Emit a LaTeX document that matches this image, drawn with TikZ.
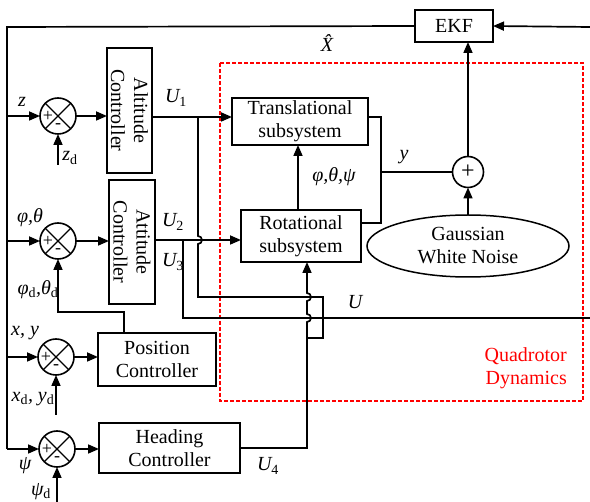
\documentclass[tikz,border=0pt]{standalone}
\usepackage{fontspec}
\setmainfont{Liberation Serif}
\usetikzlibrary{arrows.meta,shapes.geometric,calc}
\newcommand{\dsub}[1]{\textsubscript{\upshape #1}}
\begin{document}
\begin{tikzpicture}[x=1pt,y=-1pt,
 blk/.style={draw, line width=1.5pt, align=center, inner sep=0pt, outer sep=0pt, font=\fontsize{20}{23}\selectfont},
 sumc/.style={draw, circle, line width=1.6pt, minimum size=36pt, inner sep=0pt, outer sep=0pt},
 arr/.style={line width=1.7pt, -{Triangle[length=11pt,width=9pt]}},
 wire/.style={line width=1.7pt},
 lbl/.style={font=\fontsize{20}{23}\selectfont\itshape, inner sep=0pt},
 sgn/.style={font=\fontsize{18}{18}\selectfont, inner sep=0pt},
 quad/.style={draw=red, line width=1.3pt, dash pattern=on 4pt off 2pt}]
\useasboundingbox (0,0) rectangle (590,502);

% blocks
\node[blk, minimum width=45, minimum height=125] (alt) at (129.5,110.5) {};
\node[rotate=-90, align=center, font=\fontsize{20}{23}\selectfont, inner sep=0pt] at (alt.center) {Altitude\\Controller};
\node[blk, minimum width=46, minimum height=124] (att) at (132,242) {};
\node[rotate=-90, align=center, font=\fontsize{20}{23}\selectfont, inner sep=0pt] at (att.center) {Attitude\\Controller};
\node[blk, minimum width=118, minimum height=53] (pos) at (157,359.5) {Position\\Controller};
\node[blk, minimum width=141, minimum height=50] (head) at (169.5,448) {Heading\\Controller};
\node[blk, minimum width=136, minimum height=47] (trans) at (300,121.5) {Translational\\subsystem};
\node[blk, minimum width=120, minimum height=52] (rot) at (301,236) {Rotational\\subsystem};
\node[blk, minimum width=78, minimum height=32] (ekf) at (454,26) {EKF};
\node[draw, ellipse, line width=1.5pt, minimum width=202, minimum height=62, inner sep=0pt, outer sep=0pt, align=center, font=\fontsize{20}{23}\selectfont] (noise) at (468,246) {Gaussian\\White Noise};
\node[draw, circle, line width=1.6pt, minimum size=31pt, inner sep=0pt, outer sep=0pt, font=\fontsize{24}{24}\selectfont] (plus) at (468,172) {+};

% quadrotor dynamics
\draw[quad] (220,63) rectangle (583,401);
\node[red, align=right, anchor=east, font=\fontsize{20}{23}\selectfont, inner sep=0pt] (qd) at (567,368) {Quadrotor\\Dynamics};

% summing junctions
\node[sumc] (s1) at (58,116) {};
\node[sumc] (s2) at (58,241) {};
\node[sumc] (s3) at (56,357) {};
\node[sumc] (s4) at (57,449) {};
\foreach \s in {s1,s2,s3,s4}{
  \draw[line width=1.4pt] (\s.north west) -- (\s.south east);
  \draw[line width=1.4pt] (\s.north east) -- (\s.south west);
  \node[sgn] at ($(\s.center)+(-10,0)$) {+};
  \node[sgn] at ($(\s.center)+(0,10)$) {-};
}

% feedback bus
\coordinate (tl) at (7,27);
\draw[wire] (ekf.west) -- (tl) -- (7,449) coordinate (bl);
\draw[arr] (bl) -- (s4.west);
\draw[arr] (7,116) -- (s1.west);
\draw[arr] (7,241) -- (s2.west);
\draw[arr] (7,357) -- (s3.west);
\coordinate (rin) at (590,27);
\draw[arr] (rin) -- (ekf.east);

% references
\coordinate (zd) at (58,165);
\draw[arr] (zd) -- (s1.south);
\coordinate (xyd) at (56,415);
\draw[arr] (xyd) -- (s3.south);
\coordinate (psid) at (57,502);
\draw[arr] (psid) -- (s4.south);
\draw[arr] (pos.north -| 124,0) -- (124,312) -- (58,312) -- (s2.south);

% sum to controllers
\draw[arr] (s1.east) -- (alt.west |- s1.east);
\draw[arr] (s2.east) -- (att.west |- s2.east);
\draw[arr] (s3.east) -- (pos.west |- s3.east);
\draw[arr] (s4.east) -- (head.west |- s4.east);

% U1
\draw[arr] (alt.east |- 0,117) -- (trans.west |- 0,117);
\draw[wire] (198,117) -- (198,236) arc[start angle=-90,end angle=90,radius=4] -- (198,297) -- (323,297) -- (323,338) -- (307,338);
% U2
\draw[arr] (att.east |- 0,240) -- (rot.west |- 0,240);
% U3 / U
\coordinate (uout) at (590,318);
\draw[wire] (183,240) -- (183,318) -- (uout);
% U4
\draw[arr] (head.east) -- (307,448) -- (307,322) arc[start angle=90,end angle=-90,radius=4] -- (307,301) arc[start angle=90,end angle=-90,radius=4] -- (rot.south -| 307,0);

% internal
\draw[arr] (rot.north -| 298,0) -- (trans.south -| 298,0);
\draw[wire] (trans.east |- 0,117) -- (381,117) -- (381,223) -- (rot.east |- 0,223);
\draw[wire] (381,172) -- (plus.west);
\draw[arr] (noise.north) -- (plus.south);
\draw[arr] (plus.north) -- (ekf.south -| plus.north);

% labels
\node[lbl] at (22,102) {z};
\node[lbl] at (70,158) {z\dsub{d}};
\node[lbl] at (30,218) {φ,θ};
\node[lbl] at (38,290) {φ\dsub{d},θ\dsub{d}};
\node[lbl] at (25,333) {x, y};
\node[lbl] at (33,399) {x\dsub{d}, y\dsub{d}};
\node[lbl] at (25,466) {ψ};
\node[lbl] at (41,492) {ψ\dsub{d}};
\node[lbl] at (176,98) {U\dsub{1}};
\node[lbl] at (173,222) {U\dsub{2}};
\node[lbl] at (173,262) {U\dsub{3}};
\node[lbl] at (268,466) {U\dsub{4}};
\node[lbl] at (355,302) {U};
\node[lbl] at (404,157) {y};
\node[lbl] at (327,43) {\^X};
\node[lbl] at (334,177) {φ,θ,ψ};
\end{tikzpicture}
\end{document}
